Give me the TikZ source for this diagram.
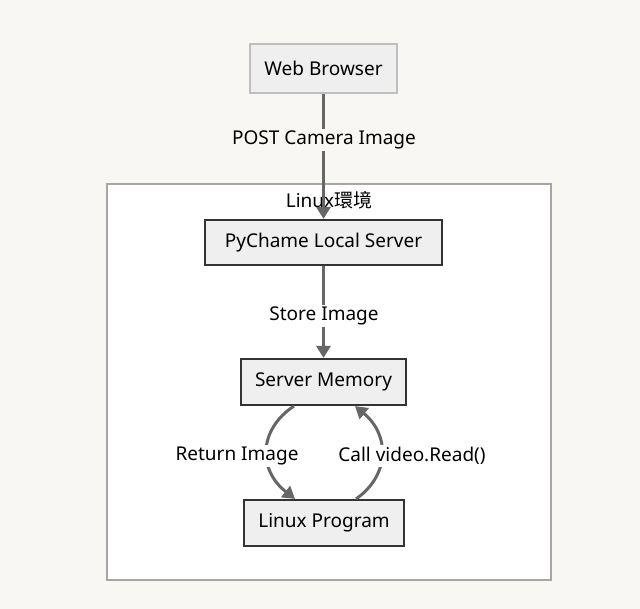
\documentclass[tikz,border=0pt]{standalone}
\usepackage{fontspec}
\setmainfont{Noto Sans}
\newfontfamily\cjk{Noto Sans CJK SC}
\usetikzlibrary{positioning,arrows.meta}
\definecolor{bgpaper}{HTML}{F8F7F3}
\definecolor{boxfill}{HTML}{EFEFEF}
\definecolor{linegray}{HTML}{666666}
\tikzset{
  box/.style={draw=black!80, line width=2.2pt, fill=boxfill, inner sep=0pt, font=\fontsize{19}{22}\selectfont},
  lbl/.style={fill=bgpaper, inner sep=2pt, font=\fontsize{19}{22}\selectfont},
  flow/.style={draw=linegray, line width=3pt, -{Triangle[length=12pt,width=14pt]}}
}
\begin{document}
\begin{tikzpicture}[x=1pt,y=-1pt]
\useasboundingbox[fill=bgpaper] (0,0) rectangle (640,609);
% subgraph
\draw[fill=white, draw=black!35, line width=1.6pt] (107,184) rectangle (551,580);
\node (env) at (329,200) {\fontsize{19}{22}\selectfont Linux{\cjk 環境}};
% nodes
\node[box, draw=black!25, line width=1.6pt, minimum width=147pt, minimum height=49pt] (web) at (323.5,68.5) {Web Browser};
\node[box, minimum width=237pt, minimum height=45pt] (srv) at (323.5,242.5) {PyChame Local Server};
\node[box, minimum width=165pt, minimum height=46pt] (mem) at (323.5,382) {Server Memory};
\node[box, minimum width=160pt, minimum height=46pt] (prog) at (324,523) {Linux Program};
% connectors
\draw[flow] (web) -- (srv);
\node[lbl] (post) at (324,140) {POST Camera Image};
\draw[flow] (srv) -- (mem);
\node[lbl, fill=white] (store) at (324,316) {Store Image};
\draw[flow] (mem.south west) ++(54,0) coordinate (m1)
  (m1) .. controls (258,430) and (258,470) .. (prog.north west -| 295,0);
\draw[flow] (prog.north east) ++(-49,0) coordinate (p1)
  (p1) .. controls (390,475) and (390,435) .. (mem.south east -| 355,0);
\node[lbl, fill=white] (ret) at (237,456) {Return Image};
\node[lbl, fill=white] (call) at (412,456) {Call video.Read()};
\end{tikzpicture}
\end{document}
